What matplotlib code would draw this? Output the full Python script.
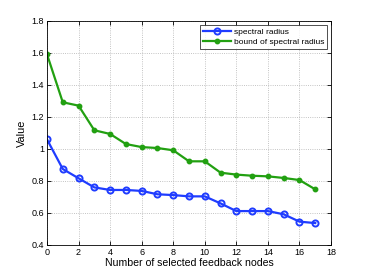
import numpy as np
import matplotlib
matplotlib.use("Agg")
import matplotlib.pyplot as plt

# ---------------------------------------------------------
# Data
# ---------------------------------------------------------
nodes = list(range(18))
spectral_radius = [1.06, 0.875, 0.817, 0.760, 0.744, 0.744, 0.738, 0.717, 0.712,
                   0.704, 0.704, 0.660, 0.612, 0.612, 0.612, 0.592, 0.546, 0.537]
bound_radius = [1.592, 1.292, 1.271, 1.117, 1.094, 1.031, 1.012, 1.006, 0.992,
                0.923, 0.923, 0.852, 0.840, 0.833, 0.829, 0.819, 0.806, 0.748]
x_ticks = [0, 2, 4, 6, 8, 10, 12, 14, 16, 18]
y_ticks = [0.4, 0.6, 0.8, 1.0, 1.2, 1.4, 1.6, 1.8]
y_tick_labels = ["0.4", "0.6", "0.8", "1", "1.2", "1.4", "1.6", "1.8"]

plt.rcParams['font.family'] = ['Liberation Sans', 'DejaVu Sans']

fig = plt.figure(figsize=(3.66, 2.75), dpi=100)
ax = fig.add_axes([47 / 366, 1 - 245 / 275, 284 / 366, 224 / 275])

ax.plot(nodes, spectral_radius, color='#1f3cff', lw=1.6, marker='o', ms=4.4,
        mfc='none', mec='#1f3cff', mew=1.4, label='spectral radius')
ax.plot(nodes, bound_radius, color='#22a011', lw=1.6, marker='o', ms=3.2,
        mfc='#22a011', mec='#22a011', label='bound of spectral radius')

ax.set_xlim(0, 18)
ax.set_ylim(0.4, 1.8)
ax.set_xticks(x_ticks)
ax.set_yticks(y_ticks)
ax.set_yticklabels(y_tick_labels)
ax.tick_params(direction='in', length=3, width=0.6, labelsize=6.5, pad=2,
               top=True, right=True)
ax.grid(True, linestyle=':', color='#b0b0b0', lw=0.6)
for s in ax.spines.values():
    s.set_linewidth(0.6)

ax.set_xlabel('Number of selected feedback nodes', fontsize=7.6, labelpad=1)
ax.set_ylabel('Value', fontsize=7.8, labelpad=3)

leg = ax.legend(loc='upper right', fontsize=6, frameon=True, fancybox=False,
                edgecolor='black', borderpad=0.35, handlelength=3.4,
                handletextpad=0.3, labelspacing=0.25, borderaxespad=0.5)
leg.get_frame().set_linewidth(0.6)

fig.savefig('out.png', dpi=100)
